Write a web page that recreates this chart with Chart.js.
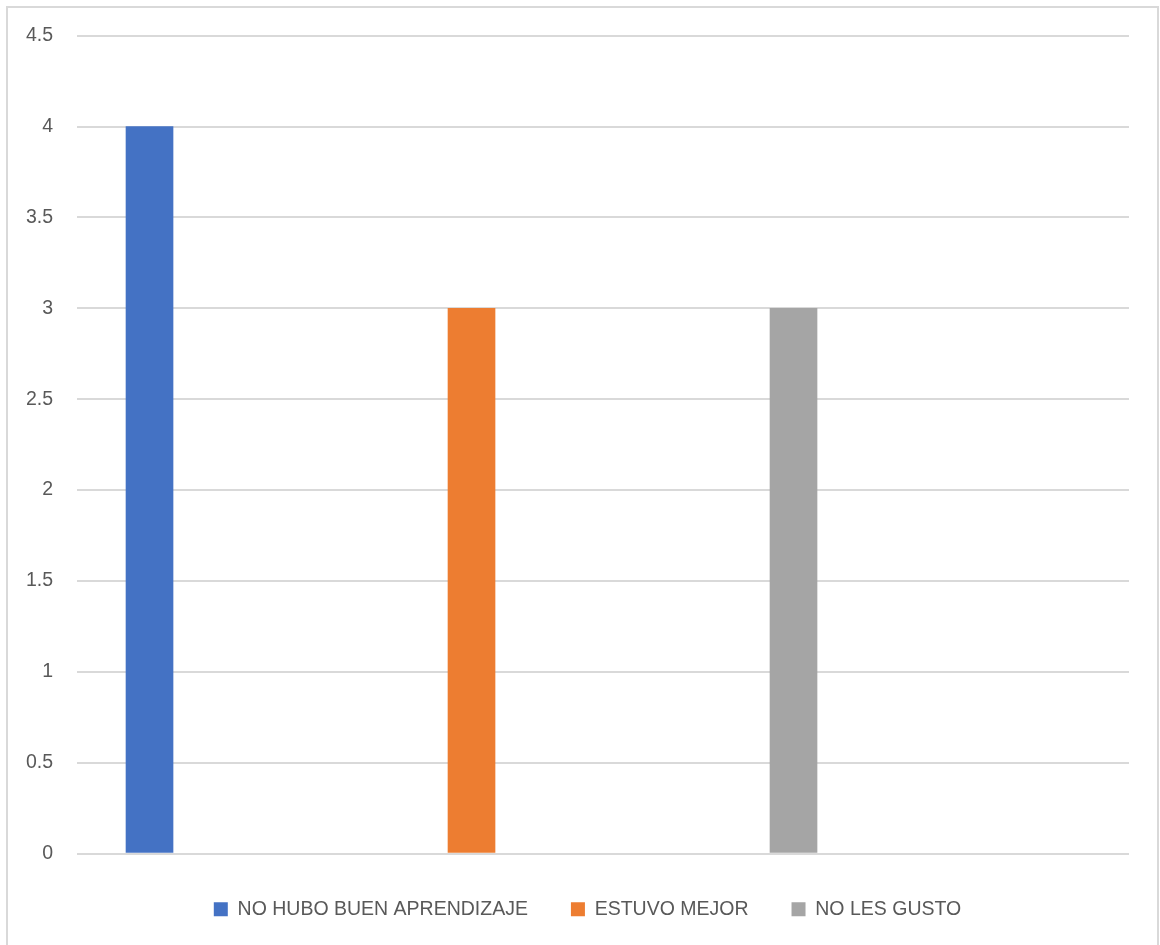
<!DOCTYPE html>
<html>
<head>
<meta charset="utf-8">
<title>Respuestas</title>
<script src="https://cdn.jsdelivr.net/npm/chart.js@4/dist/chart.umd.min.js"></script>
<style>
  html, body { margin: 0; padding: 0; background: #fff; overflow: hidden; }
  #wrap { position: relative; width: 1160px; height: 945px; }
  #frame {
    position: absolute; left: 6px; top: 6px;
    width: 1149px; height: 960px;
    border: 2px solid #d9d9d9;
    pointer-events: none;
  }
  canvas { position: absolute; left: 0; top: 0; }
</style>
</head>
<body>
<div id="wrap">
  <canvas id="chart" width="1160" height="945"></canvas>
  <div id="frame"></div>
</div>
<script>
// series shown in the legend, one bar each
const seriesNames = ['NO HUBO BUEN APRENDIZAJE', 'ESTUVO MEJOR', 'NO LES GUSTO'];
const seriesValues = [4, 3, 3];
const seriesColors = ['#4472c4', '#ed7d31', '#a5a5a5'];

const yTicks = ['0', '0.5', '1', '1.5', '2', '2.5', '3', '3.5', '4', '4.5'];

const textColor = '#595959';
const gridColor = '#d9d9d9';
const fontFamily = '"Liberation Sans", Arial, sans-serif';

const datasets = seriesNames.map((name, i) => ({
  label: name,
  data: [{ x: i, y: seriesValues[i] }],
  backgroundColor: seriesColors[i],
  borderWidth: 0,
  barThickness: 47,
  grouped: false
}));

// the legend sits a little right of the canvas centre, like the original
const legendShift = {
  id: 'legendShift',
  afterLayout(chart) {
    if (chart.legend) chart.legend.left = 46;
  }
};

new Chart(document.getElementById('chart'), {
  type: 'bar',
  data: { datasets },
  plugins: [legendShift],
  options: {
    responsive: false,
    animation: false,
    devicePixelRatio: 1,
    layout: { padding: { top: 35, right: 31, bottom: 16, left: 0 } },
    plugins: {
      tooltip: { enabled: false },
      legend: {
        position: 'bottom',
        labels: {
          color: textColor,
          font: { family: fontFamily, size: 19.5 },
          boxWidth: 14,
          boxHeight: 14,
          padding: 43
        }
      }
    },
    scales: {
      x: {
        type: 'linear',
        offset: false,
        min: -0.2252,
        max: 3.0419,
        ticks: { display: false },
        grid: { display: false },
        border: { display: false },
        afterFit: (s) => { s.height = 3; }
      },
      y: {
        min: 0,
        max: 4.5,
        ticks: {
          stepSize: 0.5,
          padding: 24,
          color: textColor,
          font: { family: fontFamily, size: 19.5 },
          callback: (v, i) => yTicks[i]
        },
        grid: { color: gridColor, lineWidth: 2, drawTicks: false },
        border: { display: false },
        afterFit: (s) => { s.width = 77; }
      }
    }
  }
});
</script>
</body>
</html>
